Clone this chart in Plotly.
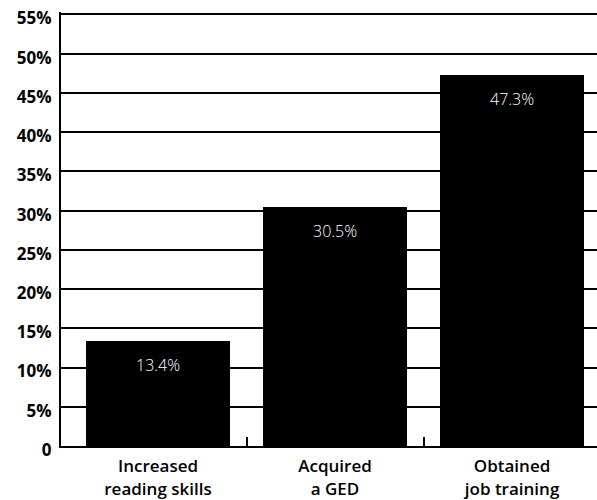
import plotly.graph_objects as go

# Outcomes and the share of participants reaching each one
categories = ["Increased<br>reading skills", "Acquired<br>a GED", "Obtained<br>job training"]
shares = [13.4, 30.5, 47.3]

# Y-axis ticks
y_ticks = [0, 5, 10, 15, 20, 25, 30, 35, 40, 45, 50, 55]
y_tick_text = ["0", "5%", "10%", "15%", "20%", "25%", "30%", "35%", "40%", "45%", "50%", "55%"]

x_pos = list(range(len(categories)))

fig = go.Figure(
    go.Bar(
        x=x_pos,
        y=shares,
        width=0.81,
        marker=dict(color="black", line=dict(width=0)),
        hoverinfo="skip",
    )
)

# White value labels near the top of each bar
for xi, v in zip(x_pos, shares):
    fig.add_annotation(
        x=xi, y=v, text=f"{v}%", showarrow=False, yshift=-24,
        font=dict(family="Open Sans", size=16, color="white", weight=300),
    )

label_font = dict(family="Open Sans", size=17, color="black", weight=600)

fig.update_layout(
    width=597,
    height=500,
    margin=dict(l=61, r=0, t=12, b=54),
    paper_bgcolor="white",
    plot_bgcolor="white",
    showlegend=False,
    bargap=0,
    xaxis=dict(
        range=[-0.548, 2.48],
        tickvals=x_pos,
        ticktext=categories,
        ticks="",
        tickfont=label_font,
        showgrid=False,
        zeroline=False,
        showline=True,
        linecolor="black",
        linewidth=2,
        ticklabelstandoff=4,
        minor=dict(tickvals=[0.5, 1.5], ticks="inside", ticklen=9, tickwidth=2, tickcolor="black", showgrid=False),
    ),
    yaxis=dict(
        range=[0, 55.3],
        tickvals=y_ticks,
        ticktext=y_tick_text,
        ticks="",
        tickfont=dict(family="Open Sans", size=17, color="black", weight=700),
        showgrid=True,
        gridcolor="black",
        gridwidth=1.6,
        zeroline=False,
        showline=True,
        linecolor="black",
        linewidth=2,
        ticklabelstandoff=4,
        ticklabelshift=4,
    ),
)

fig.write_html("out.html")
